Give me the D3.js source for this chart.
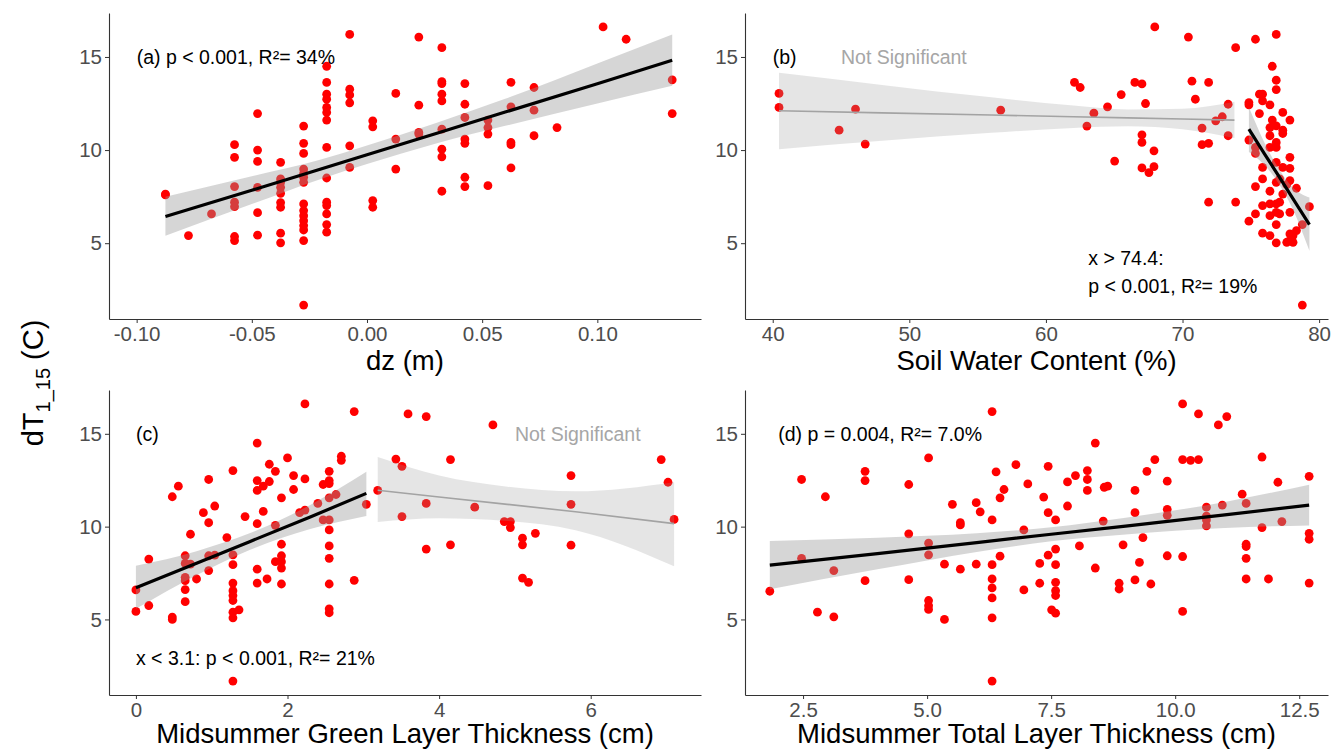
<!DOCTYPE html>
<html>
<head>
<meta charset="utf-8">
<script src="https://cdn.jsdelivr.net/npm/d3@7"></script>
<style>
  body { margin: 0; background: #fff; }
  svg { font-family: "Liberation Sans", Arial, sans-serif; }
</style>
</head>
<body>
<svg id="chart" width="1333" height="750"></svg>
<script>
// ---- data ----
// each point is [x, dT]
const dzPoints = [
  [-0.0875,7.64],[-0.0875,7.59],[-0.0775,5.41],[-0.0675,6.57],
  [-0.0575,10.29],[-0.0575,9.61],[-0.0575,8.04],[-0.0575,7.2],[-0.0575,6.96],[-0.0575,5.36],[-0.0575,5.14],
  [-0.0475,11.96],[-0.0475,10.0],[-0.0475,9.39],[-0.0475,8.0],[-0.0475,6.64],[-0.0475,5.43],
  [-0.0375,9.34],[-0.0375,8.45],[-0.0375,8.27],[-0.0375,8.0],[-0.0375,7.68],[-0.0375,7.18],[-0.0375,6.93],[-0.0375,5.54],[-0.0375,5.02],
  [-0.0275,11.29],[-0.0275,10.36],[-0.0275,9.82],[-0.0275,8.98],[-0.0275,8.75],[-0.0275,8.54],[-0.0275,8.27],[-0.0275,7.11],
  [-0.0275,6.75],[-0.0275,6.48],[-0.0275,6.21],[-0.0275,5.95],[-0.0275,5.71],[-0.0275,5.14],[-0.0275,1.68],
  [-0.0175,14.5],[-0.0175,13.63],[-0.0175,13.0],[-0.0175,12.73],[-0.0175,12.29],[-0.0175,12.02],[-0.0175,11.61],
  [-0.0175,10.14],[-0.0175,8.5],[-0.0175,7.2],[-0.0175,7.02],[-0.0175,6.57],[-0.0175,6.0],[-0.0175,5.59],
  [-0.0075,16.21],[-0.0075,13.27],[-0.0075,12.96],[-0.0075,12.54],[-0.0075,10.23],[-0.0075,9.07],
  [0.0025,11.57],[0.0025,11.25],[0.0025,7.29],[0.0025,6.93],
  [0.0125,13.04],[0.0125,10.59],[0.0125,8.98],
  [0.0225,16.07],[0.0225,12.41],[0.0225,10.95],[0.0225,10.86],
  [0.0325,15.5],[0.0325,13.68],[0.0325,13.57],[0.0325,13.0],[0.0325,12.64],[0.0325,11.12],[0.0325,10.05],[0.0325,9.64],[0.0325,7.79],
  [0.0425,13.57],[0.0425,12.46],[0.0425,11.75],[0.0425,10.59],[0.0425,10.36],[0.0425,8.54],[0.0425,8.04],
  [0.0525,11.61],[0.0525,11.21],[0.0525,10.86],[0.0525,8.09],
  [0.0625,13.64],[0.0625,12.32],[0.0625,10.41],[0.0625,10.29],[0.0625,9.04],
  [0.0725,13.36],[0.0725,12.14],[0.0725,10.77],
  [0.0825,11.21],[0.1025,16.61],[0.1125,15.95],[0.1325,13.77],[0.1325,11.96]
];

const swcPoints = [
  [40.46,13.04],[40.46,12.29],[44.86,11.07],[46.06,12.2],[46.77,10.32],[56.69,12.14],
  [62.09,13.64],[62.51,13.36],[63.0,11.29],[63.51,11.98],[64.51,12.32],[65.03,9.41],[65.51,12.98],
  [66.51,13.63],[67.03,13.55],[67.03,10.82],[67.03,10.41],[67.03,9.04],[67.29,12.5],[67.54,8.79],
  [67.91,9.96],[67.91,9.11],[67.97,16.61],[70.43,16.07],[70.69,13.7],[70.94,12.73],[71.43,11.18],[71.43,10.29],
  [71.91,13.63],[71.91,10.36],[71.91,7.2],[72.43,11.57],[72.91,11.79],[73.34,12.46],[73.34,10.77],[73.89,15.5],[73.89,7.21],
  [74.86,12.55],[74.86,12.43],[74.86,10.54],[74.86,6.18],
  [75.34,15.95],[75.34,10.14],[75.34,9.82],[75.34,8.04],[75.34,6.57],
  [75.63,13.0],[75.63,11.96],
  [75.86,13.0],[75.86,12.64],[75.86,9.07],[75.86,8.45],[75.86,7.02],[75.86,5.54],
  [76.4,12.43],[76.4,11.21],[76.4,10.77],[76.4,10.14],[76.4,7.79],[76.4,7.11],[76.4,6.48],[76.4,5.41],
  [76.57,14.5],[76.57,11.61],
  [76.86,16.21],[76.86,13.75],[76.86,13.25],[76.86,11.3],[76.86,10.41],[76.86,10.14],[76.86,9.34],
  [76.86,8.27],[76.86,7.11],[76.86,6.66],[76.86,6.0],[76.86,5.02],
  [77.11,8.45],[77.11,7.2],[77.11,6.57],
  [77.34,12.02],[77.34,11.07],[77.34,10.89],[77.34,9.07],[77.34,7.64],
  [77.63,8.14],[77.63,5.05],
  [77.86,11.61],[77.86,9.61],[77.86,9.02],[77.86,8.36],[77.86,6.66],[77.86,5.5],[77.86,5.14],
  [78.09,5.41],[78.09,5.05],[78.34,7.95],[78.34,5.68],
  [78.77,6.0],[78.77,1.68],[79.29,6.96]
];

const greenPoints = [
  [0,6.59],[0,5.43],[0.17,8.25],[0.17,5.75],[0.48,11.61],[0.48,5.13],[0.48,5.0],[0.56,12.18],
  [0.65,8.43],[0.65,8.02],[0.65,7.27],[0.65,7.09],[0.65,6.61],[0.65,5.96],[0.72,7.98],[0.72,9.59],[0.8,7.18],
  [0.89,10.75],[0.96,12.54],[0.96,10.21],[0.96,8.43],[0.96,7.63],[1.04,11.11],[1.04,8.46],[1.2,9.41],
  [1.28,13.02],[1.28,8.48],[1.28,7.95],[1.28,6.96],[1.28,6.55],[1.28,6.29],[1.28,6.02],[1.28,5.39],[1.28,5.09],[1.28,1.68],
  [1.36,5.52],[1.44,10.54],[1.6,14.5],[1.6,12.48],[1.6,11.95],[1.6,10.16],[1.6,7.71],[1.6,6.96],
  [1.68,12.18],[1.68,10.82],[1.73,7.18],[1.76,13.36],[1.76,12.43],[1.84,12.98],[1.84,10.07],[1.84,8.11],
  [1.92,11.55],[1.92,9.05],[1.92,8.43],[1.92,8.11],[1.92,7.77],[1.92,6.91],[2.0,13.7],[2.08,12.75],[2.08,12.0],
  [2.16,10.75],[2.23,16.61],[2.23,12.57],[2.23,10.89],[2.4,11.25],[2.47,12.27],[2.47,10.36],
  [2.55,12.98],[2.55,12.48],[2.55,12.32],[2.55,11.55],[2.55,10.36],[2.55,9.82],[2.55,8.96],[2.55,8.29],
  [2.55,6.91],[2.55,5.57],[2.55,5.36],
  [2.64,11.73],[2.71,13.79],[2.71,13.57],[2.88,16.2],[2.88,7.11],[3.04,11.2],
  [3.19,11.95],[3.43,13.64],[3.51,13.25],[3.51,10.54],[3.59,16.07],[3.83,15.93],[3.83,11.25],[3.83,8.79],
  [4.15,13.61],[4.15,9.02],[4.47,11.05],[4.71,15.48],[4.86,10.27],[4.94,10.27],[4.94,9.95],
  [5.1,9.38],[5.1,9.02],[5.1,7.23],[5.18,7.0],[5.27,9.64],[5.74,12.75],[5.74,11.2],[5.74,9.0],
  [6.93,13.61],[7.02,12.39],[7.1,10.39]
];

const totalPoints = [
  [1.83,6.52],[2.47,12.54],[2.47,8.29],[2.79,5.39],[2.95,11.61],[3.12,7.63],[3.12,5.14],
  [3.75,12.98],[3.75,12.48],[3.75,7.09],[4.63,12.27],[4.63,9.61],[4.63,7.14],
  [5.03,13.7],[5.03,9.11],[5.03,8.48],[5.03,6.02],[5.03,5.75],[5.03,5.54],
  [5.35,7.98],[5.35,5.0],[5.51,11.2],[5.67,10.21],[5.67,10.09],[5.67,7.71],[5.99,11.29],[5.99,7.98],[6.07,10.8],
  [6.31,16.2],[6.31,10.36],[6.31,7.95],[6.31,7.18],[6.31,6.7],[6.31,6.16],[6.31,5.09],[6.31,1.68],
  [6.39,12.95],[6.47,11.55],[6.47,8.41],[6.55,12.0],[6.79,13.34],[6.95,9.82],[6.95,6.59],[7.03,12.3],
  [7.27,8.02],[7.27,6.95],[7.35,11.59],[7.44,13.25],[7.44,10.75],[7.44,8.46],[7.51,5.52],
  [7.59,10.36],[7.59,8.79],[7.59,7.95],[7.59,7.0],[7.59,6.55],[7.59,6.29],[7.59,5.34],
  [7.83,12.41],[7.83,11.11],[7.99,12.75],[8.07,8.96],[8.23,13.02],[8.23,12.54],[8.23,11.95],
  [8.39,14.5],[8.39,7.77],[8.55,10.3],[8.57,12.12],[8.64,12.18],[8.95,9.02],[8.87,6.95],[8.87,6.64],
  [9.19,11.95],[9.19,10.75],[9.19,7.13],[9.28,8.07],[9.35,9.41],[9.43,12.98],[9.51,6.91],[9.59,13.61],
  [9.84,12.45],[9.84,10.93],[9.84,10.61],[9.84,8.43],
  [10.15,16.61],[10.15,13.61],[10.15,8.39],[10.15,5.43],[10.31,13.57],[10.47,16.07],[10.47,13.61],
  [10.63,11.05],[10.63,10.57],[10.63,10.36],[10.63,10.04],[10.87,15.48],[10.95,11.16],[11.04,15.93],
  [11.35,11.75],[11.43,11.25],[11.43,9.05],[11.43,8.93],[11.43,8.29],[11.43,7.18],
  [11.75,13.75],[11.75,9.95],[11.88,7.18],[12.07,12.39],[12.15,10.27],
  [12.7,12.71],[12.7,9.64],[12.7,9.32],[12.7,6.96]
];

// fitted lines and confidence bands: [x, lower, fit, upper]
const fitDz = [[-0.0875,5.40,6.43,7.50],[-0.05,7.10,7.84,8.60],[-0.02,8.45,8.98,9.50],[0.0,9.25,9.75,10.25],
  [0.03,10.35,10.89,11.45],[0.06,11.30,12.04,12.75],[0.10,12.50,13.56,14.65],[0.1325,13.45,14.82,16.20]];
const fitSwcLow = [[40.46,10.05,12.11,14.15],[48,10.5,12.0,13.5],[56,10.93,11.88,12.83],[62,11.19,11.79,12.39],
  [66,11.28,11.73,12.18],[70,11.12,11.67,12.22],[73.8,10.65,11.61,12.6]];
const fitSwcHigh = [[74.86,9.9,11.12,12.3],[76,9.2,9.8,10.4],[77,8.25,8.65,9.05],[78,6.95,7.49,8.05],[79.29,4.6,6.0,7.45]];
const fitGreenLow = [[0,5.57,6.71,7.89],[0.8,7.38,8.03,8.68],[1.5,8.74,9.19,9.64],[2.3,9.87,10.52,11.17],[3.04,10.57,11.79,12.95]];
const fitGreenHigh = [[3.19,10.25,11.96,13.75],[4.0,10.45,11.6,12.75],[4.9,10.3,11.2,12.15],[5.8,9.8,10.8,11.9],[7.1,7.86,10.16,12.39]];
const fitTotal = [[1.83,6.63,7.93,9.23],[4.0,7.7,8.55,9.4],[6.0,8.64,9.14,9.64],[7.5,9.21,9.59,9.97],
  [9.0,9.58,10.03,10.48],[11.0,9.93,10.63,11.33],[12.7,10.06,11.16,12.26]];

const yTicks = [5, 10, 15];
const dzTicks = [-0.10, -0.05, 0.00, 0.05, 0.10];
const swcTicks = [40, 50, 60, 70, 80];
const greenTicks = [0, 2, 4, 6];
const totalTicks = [2.5, 5.0, 7.5, 10.0, 12.5];

// ---- drawing ----
const svg = d3.select("#chart");
const yDomain = [0.93, 17.36];

function drawPanel(p) {
  const x = d3.scaleLinear().domain(p.xDomain).range([p.left, p.right]);
  const y = d3.scaleLinear().domain(yDomain).range([p.bottom, p.top]);
  const g = svg.append("g");

  // points
  g.append("g").selectAll("circle").data(p.points).join("circle")
    .attr("cx", d => x(d[0])).attr("cy", d => y(d[1]))
    .attr("r", 4.4).attr("fill", "#ff0000");

  // bands and lines
  p.fits.forEach(f => {
    const sig = f.sig;
    g.append("path").datum(f.rows)
      .attr("d", d3.area().curve(d3.curveMonotoneX)
        .x(d => x(d[0])).y0(d => y(d[1])).y1(d => y(d[3])))
      .attr("fill", "#999999").attr("fill-opacity", sig ? 0.4 : 0.25);
    g.append("path").datum(f.rows)
      .attr("d", d3.line().x(d => x(d[0])).y(d => y(d[2])))
      .attr("fill", "none")
      .attr("stroke", sig ? "#000" : "#a3a3a3")
      .attr("stroke-width", sig ? 3.2 : 1.6);
  });

  // axes
  const xa = g.append("g").attr("transform", `translate(0,${p.bottom})`)
    .call(d3.axisBottom(x).tickValues(p.xTicks).tickFormat(p.fmt).tickSize(4).tickSizeOuter(0).tickPadding(3));
  const ya = g.append("g").attr("transform", `translate(${p.left},0)`)
    .call(d3.axisLeft(y).tickValues(yTicks).tickSize(4).tickSizeOuter(0).tickPadding(3));
  [xa, ya].forEach(a => {
    a.select(".domain").attr("stroke", "#333").attr("stroke-width", 1.1);
    a.selectAll(".tick line").attr("stroke", "#333");
    a.selectAll(".tick text").attr("fill", "#4d4d4d").style("font-size", "20.5px")
      .style("font-family", '"Liberation Sans", Arial, sans-serif');
  });

  // axis title
  g.append("text").attr("x", (p.left + p.right) / 2).attr("y", Math.min(p.bottom + 51, 743))
    .attr("text-anchor", "middle").style("font-size", "27.5px").attr("fill", "#000")
    .text(p.title);

  // annotations
  p.notes.forEach(n => {
    g.append("text").attr("x", x(n.x)).attr("y", y(n.y)).attr("dy", "0.35em")
      .style("font-size", "19.5px").attr("fill", n.gray ? "#a6a6a6" : "#000")
      .text(n.text);
  });
}

drawPanel({
  left: 109, right: 701, top: 13, bottom: 319,
  xDomain: [-0.112, 0.145], xTicks: dzTicks, fmt: d => d.toFixed(2),
  points: dzPoints, fits: [{rows: fitDz, sig: true}], title: "dz (m)",
  notes: [{x: -0.1, y: 15, text: "(a) p < 0.001, R²= 34%"}]
});
drawPanel({
  left: 745, right: 1328, top: 13, bottom: 319,
  xDomain: [37.97, 80.65], xTicks: swcTicks, fmt: d3.format("d"),
  points: swcPoints, fits: [{rows: fitSwcLow, sig: false}, {rows: fitSwcHigh, sig: true}],
  title: "Soil Water Content (%)",
  notes: [{x: 40, y: 15, text: "(b)"}, {x: 45, y: 15, text: "Not Significant", gray: true},
          {x: 63.1, y: 4.2, text: "x > 74.4:"}, {x: 63.1, y: 2.7, text: "p < 0.001, R²= 19%"}]
});
drawPanel({
  left: 109, right: 701, top: 390, bottom: 695,
  xDomain: [-0.355, 7.455], xTicks: greenTicks, fmt: d3.format("d"),
  points: greenPoints, fits: [{rows: fitGreenLow, sig: true}, {rows: fitGreenHigh, sig: false}],
  title: "Midsummer Green Layer Thickness (cm)",
  notes: [{x: 0, y: 15, text: "(c)"}, {x: 5.0, y: 15, text: "Not Significant", gray: true},
          {x: 0, y: 2.94, text: "x < 3.1: p < 0.001, R²= 21%"}]
});
drawPanel({
  left: 745, right: 1328, top: 390, bottom: 695,
  xDomain: [1.33, 13.08], xTicks: totalTicks, fmt: d3.format(".1f"),
  points: totalPoints, fits: [{rows: fitTotal, sig: true}],
  title: "Midsummer Total Layer Thickness (cm)",
  notes: [{x: 2.0, y: 15, text: "(d) p = 0.004, R²= 7.0%"}]
});

// shared y title
const yt = svg.append("text")
  .attr("transform", "translate(43,383) rotate(-90)")
  .attr("text-anchor", "middle").style("font-size", "29px").attr("fill", "#000");
yt.append("tspan").text("dT");
yt.append("tspan").attr("dy", 7).style("font-size", "20px").text("1_15");
yt.append("tspan").attr("dy", -7).text(" (C)");
</script>
</body>
</html>
